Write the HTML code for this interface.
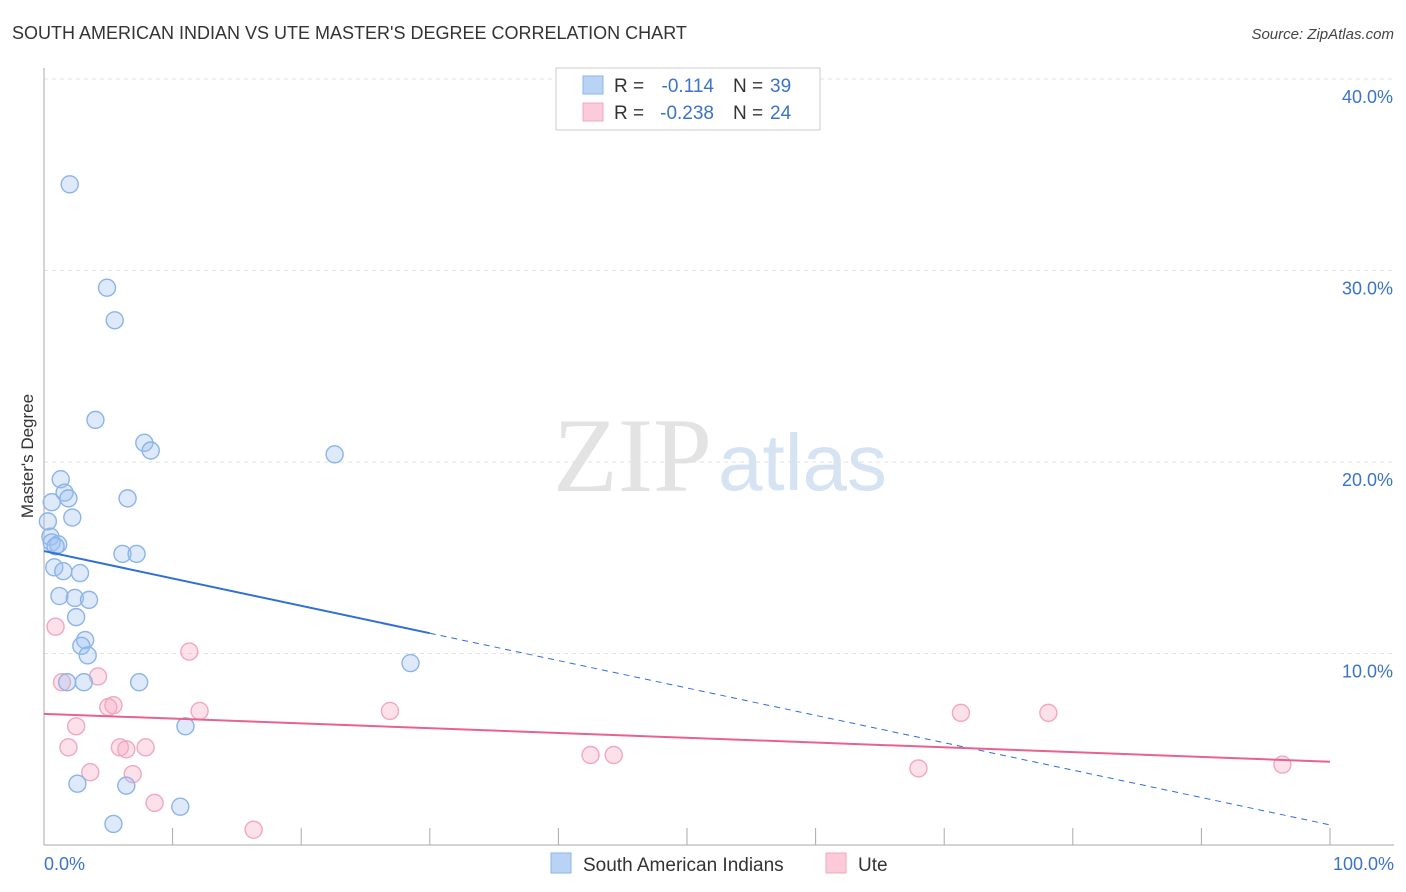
<!DOCTYPE html>
<html><head><meta charset="utf-8">
<style>
body{margin:0;background:#fff;font-family:"Liberation Sans",sans-serif;}
#wrap{position:relative;width:1406px;height:892px;overflow:hidden;}
</style></head>
<body>
<div id="wrap">
<svg id="svg" width="1406" height="892"></svg>
</div>
<script>
const xTickLabels=["0.0%","100.0%"];
const yTicks=[10,20,30,40];
const blueX=[2.0,4.9,5.5,4.0,7.8,8.3,22.6,1.3,1.6,1.9,6.5,0.6,2.2,0.3,0.5,0.6,1.1,0.9,6.1,7.2,0.8,1.5,2.8,1.2,2.4,3.5,2.5,3.2,2.9,3.4,28.5,1.8,3.1,7.4,11.0,2.6,6.4,10.6,5.4];
const blueY=[34.5,29.1,27.4,22.2,21.0,20.6,20.4,19.1,18.4,18.1,18.1,17.9,17.1,16.9,16.1,15.8,15.7,15.6,15.2,15.2,14.5,14.3,14.2,13.0,12.9,12.8,11.9,10.7,10.4,9.9,9.5,8.5,8.5,8.5,6.2,3.2,3.1,2.0,1.1];
const pinkX=[0.9,11.3,4.2,1.4,5.0,5.4,12.1,26.9,71.3,78.1,2.5,1.9,5.9,6.4,7.9,42.5,44.3,3.6,6.9,68.0,96.3,8.6,16.3];
const pinkY=[11.4,10.1,8.8,8.5,7.2,7.3,7.0,7.0,6.9,6.9,6.2,5.1,5.1,5.0,5.1,4.7,4.7,3.8,3.7,4.0,4.2,2.2,0.8];
const blueTrend=[15.35,1.05];
const pinkTrend=[6.85,4.35];
const X0=44,X1=1330,Y0=845,PER=19.15;
const sx=v=>X0+(X1-X0)*v/100;
const sy=v=>Y0-PER*v;
const svg=document.getElementById('svg');
const NS='http://www.w3.org/2000/svg';
function mk(t,a,txt){const e=document.createElementNS(NS,t);for(const k in a)e.setAttribute(k,a[k]);if(txt!==undefined)e.textContent=txt;svg.appendChild(e);return e;}
let e;
e=mk('text',{x:12,y:39,'font-size':18,fill:'#333'},"SOUTH AMERICAN INDIAN VS UTE MASTER'S DEGREE CORRELATION CHART");

e=mk('text',{x:1394,y:39,'font-size':15,fill:'#444','text-anchor':'end','font-style':'italic'},"Source: ZipAtlas.com");

e=mk('text',{x:553,y:491,'font-size':106,fill:'#e3e3e3','font-family':'Liberation Serif,serif'},"ZIP");

e=mk('text',{x:718,y:490,'font-size':80,fill:'#d6e3f3'},"atlas");

yTicks.forEach(t=>{
 e=mk('line',{x1:X0,x2:1394,y1:sy(t),y2:sy(t),stroke:'#e2e2e2','stroke-dasharray':'4,4'});
 
 e=mk('text',{x:1393,y:sy(t)+24,'font-size':18,fill:'#3b73c9','text-anchor':'end'},t.toFixed(1)+'%');
 
});
e=mk('line',{x1:X0,x2:X0,y1:68,y2:Y0,stroke:'#aaa'});

e=mk('line',{x1:X0,x2:1394,y1:Y0,y2:Y0,stroke:'#aaa'});

for(let i=0;i<=10;i++){e=mk('line',{x1:sx(i*10),x2:sx(i*10),y1:Y0,y2:Y0-17,stroke:'#aaa'});
 }
e=mk('text',{x:44,y:870,'font-size':18,fill:'#3b73c9'},xTickLabels[0]);

e=mk('text',{x:1394,y:870,'font-size':18,fill:'#3b73c9','text-anchor':'end'},xTickLabels[1]);

e=mk('text',{x:33,y:456,'font-size':17,fill:'#333','text-anchor':'middle',transform:'rotate(-90 33 456)'},"Master's Degree");

pinkX.forEach((x,i)=>{e=mk('circle',{cx:sx(x),cy:sy(pinkY[i]),r:8.5,fill:'rgba(246,170,195,0.35)',stroke:'#f1a7c0','stroke-width':1.4});
 });
blueX.forEach((x,i)=>{e=mk('circle',{cx:sx(x),cy:sy(blueY[i]),r:8.5,fill:'rgba(160,196,240,0.35)',stroke:'#8bb4e8','stroke-width':1.4});
 });
const by=x=>blueTrend[0]+(blueTrend[1]-blueTrend[0])*x/100;
e=mk('line',{x1:sx(0),y1:sy(by(0)),x2:sx(30),y2:sy(by(30)),stroke:'#2f6fd6','stroke-width':2});

e=mk('line',{x1:sx(30),y1:sy(by(30)),x2:sx(100),y2:sy(by(100)),stroke:'#2f6fd6','stroke-width':1,'stroke-dasharray':'6,5'});

e=mk('line',{x1:sx(0),y1:sy(pinkTrend[0]),x2:sx(100),y2:sy(pinkTrend[1]),stroke:'#e8628f','stroke-width':2});

e=mk('rect',{x:556,y:68,width:264,height:62,fill:'#fff',stroke:'#ccc'});

[[0,'#b9d3f5','#8bb4e8','-0.114','39'],[1,'#fbcbd9','#f1a7c0','-0.238','24']].forEach(r=>{
 const y=76+r[0]*27;
 e=mk('rect',{x:583,y:y,width:20,height:18,fill:r[1],stroke:r[2]});
 e=mk('text',{x:614,y:y+16,'font-size':19,fill:'#333'},'R = ');
 e=mk('text',{x:714,y:y+16,'font-size':19,fill:'#3b73c9','text-anchor':'end'},r[3]);
 e=mk('text',{x:733,y:y+16,'font-size':19,fill:'#333'},'N = ');
 e=mk('text',{x:770,y:y+16,'font-size':19,fill:'#3b73c9'},r[4]);
});
e=mk('rect',{x:551,y:853,width:20,height:20,fill:'#b9d3f5',stroke:'#8bb4e8'});
e=mk('text',{x:583,y:871,'font-size':19,fill:'#333'},'South American Indians');
e=mk('rect',{x:826,y:853,width:20,height:20,fill:'#fbcbd9',stroke:'#f1a7c0'});
e=mk('text',{x:858,y:871,'font-size':19,fill:'#333'},'Ute');
</script>
</body></html>
